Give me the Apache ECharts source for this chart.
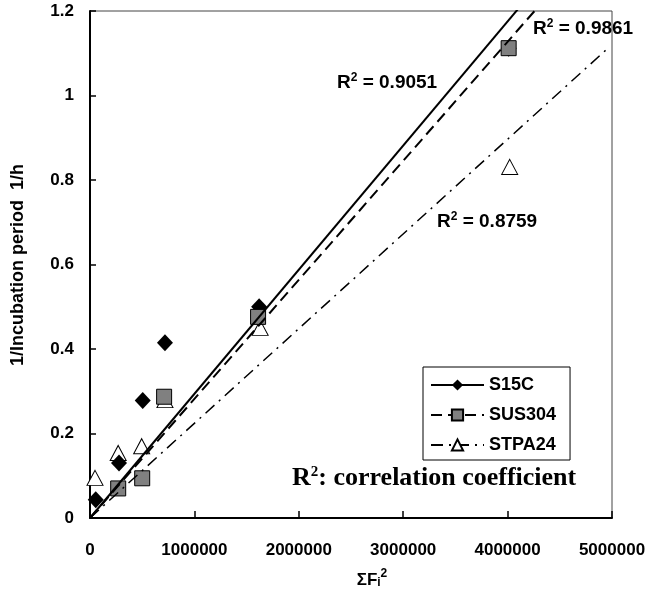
<!DOCTYPE html>
<html>
<head>
<meta charset="utf-8">
<script src="https://cdn.jsdelivr.net/npm/echarts@6/dist/echarts.min.js"></script>
<style>
html, body { margin: 0; padding: 0; background: #fff; }
#chart { width: 669px; height: 601px; }
</style>
</head>
<body>
<div id="chart"></div>
<script>
// axis ticks
const xTicks = [0, 1000000, 2000000, 3000000, 4000000, 5000000];
const yTicks = [0, 0.2, 0.4, 0.6, 0.8, 1, 1.2];

const s15cX = [55000, 278000, 505000, 718000, 1620000, 4010000];
const s15cY = [0.043, 0.130, 0.278, 0.415, 0.500, 1.112];
const sus304X = [270000, 500000, 710000, 1610000, 4010000];
const sus304Y = [0.070, 0.094, 0.287, 0.476, 1.112];
const stpa24X = [48000, 270000, 495000, 718000, 1630000, 4020000];
const stpa24Y = [0.095, 0.154, 0.170, 0.279, 0.450, 0.831];

// trend line labels
const r2Labels = ['0.9051', '0.9861', '0.8759'];
const trendEndX = 4950000;

function pairs(xs, ys) {
    return xs.map((x, i) => [x, ys[i]]);
}

// least squares line through the origin
function fitLine(xs, ys) {
    let sxy = 0, sxx = 0;
    xs.forEach((x, i) => { sxy += x * ys[i]; sxx += x * x; });
    const k = sxy / sxx;
    return [[0, 0], [trendEndX, k * trendEndX]];
}

const font = 'Arial, "Liberation Sans", sans-serif';
const serif = '"Liberation Serif", "Times New Roman", serif';
const chart = echarts.init(document.getElementById('chart'));

const supRich = {
    a: { fontFamily: font, fontWeight: 'bold', fontSize: 19, color: '#000' },
    s: { fontFamily: font, fontWeight: 'bold', fontSize: 12, color: '#000', padding: [0, 0, 10, 0] }
};

const option = {
    animation: false,
    grid: {
        left: 90, top: 11, right: 57, bottom: 83,
        show: true, borderColor: '#444', borderWidth: 1
    },
    legend: {
        orient: 'vertical',
        left: 423, top: 367,
        padding: [9, 14, 6, 7],
        itemWidth: 53, itemHeight: 14, itemGap: 12,
        borderColor: '#000', borderWidth: 1,
        data: ['S15C', 'SUS304', 'STPA24'],
        textStyle: { fontFamily: font, fontWeight: 'bold', fontSize: 18, color: '#000' }
    },
    xAxis: {
        type: 'value',
        min: xTicks[0], max: xTicks[xTicks.length - 1],
        interval: xTicks[1] - xTicks[0],
        axisLine: { lineStyle: { color: '#000', width: 2 } },
        axisTick: { inside: true, length: 7, lineStyle: { color: '#000', width: 1.5 } },
        splitLine: { show: false },
        axisLabel: {
            margin: 24, color: '#000', fontFamily: font, fontWeight: 'bold', fontSize: 17,
            formatter: v => String(v)
        }
    },
    yAxis: {
        type: 'value',
        min: yTicks[0], max: yTicks[yTicks.length - 1],
        interval: 0.2,
        axisLine: { lineStyle: { color: '#000', width: 2 } },
        axisTick: { inside: true, length: 6, lineStyle: { color: '#000', width: 1.5 } },
        splitLine: { show: false },
        axisLabel: {
            margin: 16, color: '#000', fontFamily: font, fontWeight: 'bold', fontSize: 17,
            formatter: v => String(+v.toFixed(1))
        }
    },
    graphic: [
        {
            type: 'text', x: 18, y: 265, rotation: Math.PI / 2,
            style: {
                text: '1/Incubation period  1/h',
                fontFamily: font, fontWeight: 'bold', fontSize: 18, fill: '#000',
                align: 'center', verticalAlign: 'middle'
            }
        },
        {
            type: 'text', x: 372, y: 583,
            style: {
                text: '{a|ΣF}{i|i}{s|2}',
                align: 'center', verticalAlign: 'middle',
                rich: {
                    a: { fontFamily: font, fontWeight: 'bold', fontSize: 17, color: '#000', padding: [0, 0, 5, 0] },
                    i: { fontFamily: font, fontWeight: 'bold', fontSize: 12, color: '#000' },
                    s: { fontFamily: font, fontWeight: 'bold', fontSize: 12, color: '#000', padding: [0, 0, 18, 0] }
                }
            }
        },
        {
            type: 'text', x: 337, y: 83,
            style: { text: '{a|R}{s|2}{a| = ' + r2Labels[0] + '}', verticalAlign: 'middle', rich: supRich }
        },
        {
            type: 'text', x: 533, y: 29,
            style: { text: '{a|R}{s|2}{a| = ' + r2Labels[1] + '}', verticalAlign: 'middle', rich: supRich }
        },
        {
            type: 'text', x: 437, y: 222,
            style: { text: '{a|R}{s|2}{a| = ' + r2Labels[2] + '}', verticalAlign: 'middle', rich: supRich }
        },
        {
            type: 'text', x: 292, y: 478,
            style: {
                text: '{a|R}{s|2}{a|: correlation coefficient}',
                verticalAlign: 'middle',
                rich: {
                    a: { fontFamily: serif, fontWeight: 'bold', fontSize: 26, color: '#000' },
                    s: { fontFamily: serif, fontWeight: 'bold', fontSize: 15, color: '#000', padding: [0, 0, 11, 0] }
                }
            }
        }
    ],
    series: [
        {
            name: 'S15C', type: 'line', z: 5, clip: true, showSymbol: false,
            symbol: 'diamond', symbolSize: 12,
            itemStyle: { color: '#000', borderColor: '#000' },
            lineStyle: { color: '#000', width: 2, type: 'solid' },
            data: fitLine(s15cX, s15cY)
        },
        {
            name: 'SUS304', type: 'line', z: 5, clip: true, showSymbol: false,
            symbol: 'rect', symbolSize: 11,
            itemStyle: { color: '#808080', borderColor: '#000', borderWidth: 1 },
            lineStyle: { color: '#000', width: 2, type: [11, 6] },
            data: fitLine(sus304X, sus304Y)
        },
        {
            name: 'STPA24', type: 'line', z: 5, clip: true, showSymbol: false,
            symbol: 'triangle', symbolSize: 12,
            itemStyle: { color: '#fff', borderColor: '#000', borderWidth: 1 },
            lineStyle: { color: '#000', width: 1.5, type: [12, 6, 2, 6] },
            data: fitLine(stpa24X, stpa24Y)
        },
        {
            name: 'STPA24', type: 'scatter', z: 2,
            symbol: 'triangle', symbolSize: [16, 15],
            itemStyle: { color: '#fff', borderColor: '#000', borderWidth: 1, opacity: 1 },
            data: pairs(stpa24X, stpa24Y)
        },
        {
            name: 'S15C', type: 'scatter', z: 3,
            symbol: 'diamond', symbolSize: [16, 17],
            itemStyle: { color: '#000', opacity: 1 },
            data: pairs(s15cX, s15cY)
        },
        {
            name: 'SUS304', type: 'scatter', z: 4,
            symbol: 'rect', symbolSize: 15,
            itemStyle: { color: '#808080', borderColor: '#000', borderWidth: 1, opacity: 1 },
            data: pairs(sus304X, sus304Y)
        }
    ]
};

chart.setOption(option);
</script>
</body>
</html>
